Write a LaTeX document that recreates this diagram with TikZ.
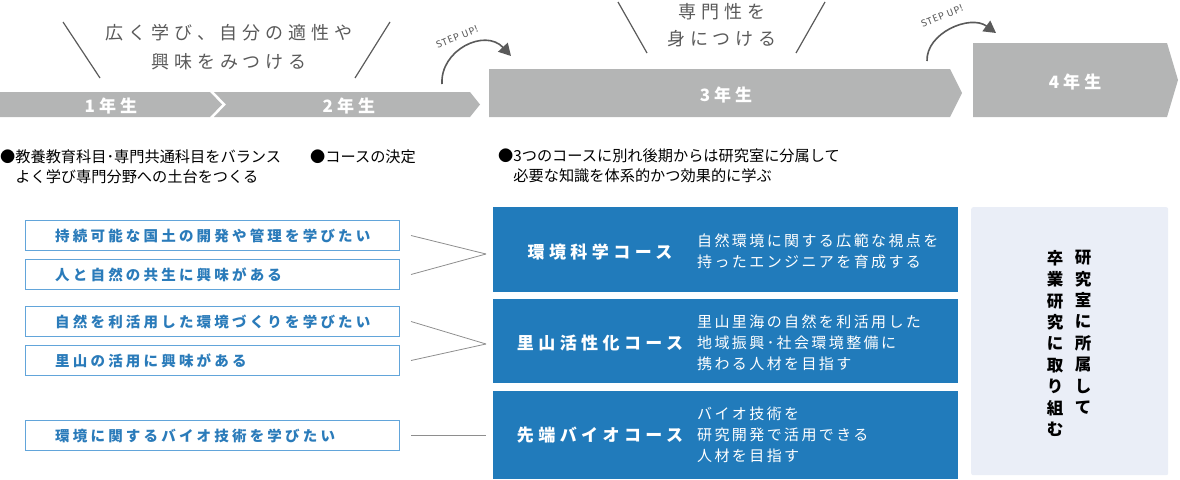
\documentclass[tikz,border=0pt]{standalone}
\usepackage{fontspec}
\setmainfont{Noto Sans CJK JP}
\newfontfamily\stepfont{Fira Sans}
\usetikzlibrary{arrows.meta}
\definecolor{bargray}{HTML}{B4B5B5}
\definecolor{headgray}{HTML}{5A5A5A}
\definecolor{courseblue}{HTML}{217BBB}
\definecolor{wishblue}{HTML}{62A5DA}
\definecolor{wishtext}{HTML}{2A7BBA}
\definecolor{labbg}{HTML}{EAEEF7}
\definecolor{linkgray}{HTML}{8E8E8E}
\newcommand\spaced[1]{\addfontfeature{LetterSpace=#1}}
\begin{document}
\begin{tikzpicture}[x=1pt,y=-1pt,
        yearbar/.style={fill=bargray,draw=none},
        yearlabel/.style={text=white,inner sep=0pt,font=\fontsize{17}{17}\selectfont\bfseries\spaced{24}},
        headline/.style={text=headgray,align=center,inner sep=0pt},
        slash/.style={draw=headgray,line width=1.2pt},
        stepup/.style={draw=headgray,line width=1.6pt,-{Triangle[length=12pt,width=13pt]}},
        steptext/.style={text=headgray,inner sep=0pt,rotate=22,font=\stepfont\fontsize{10}{10}\selectfont\spaced{8}},
        note/.style={anchor=west,align=left,inner sep=0pt,font=\fontsize{15.2}{20}\selectfont},
        wishbox/.style={draw=wishblue,line width=1pt,fill=white,anchor=north west,minimum width=374pt,minimum height=30pt,inner sep=0pt},
        wishlabel/.style={anchor=west,inner sep=0pt,text=wishtext,font=\fontsize{14.5}{14.5}\selectfont\bfseries\spaced{22}},
        link/.style={draw=linkgray,line width=0.8pt},
        coursebox/.style={fill=courseblue,draw=none,anchor=north west,minimum width=465pt,inner sep=0pt},
        coursename/.style={text=white,inner sep=0pt,font=\fontsize{17}{17}\selectfont\bfseries\spaced{26}},
        coursetext/.style={anchor=west,align=left,text=white,inner sep=0pt,font=\fontsize{15}{21}\selectfont\spaced{16}},
        labbox/.style={fill=labbg,draw=none,rounded corners=2pt,anchor=north west,minimum width=197pt,minimum height=268pt},
        labcol/.style={anchor=north,align=center,inner sep=0pt,font=\fontsize{16.5}{21.4}\selectfont\bfseries},
        ]
    \useasboundingbox (0,0) rectangle (1180,479);

    % year bars
    \draw[yearbar] (0,92) -- (210,92) -- (222,104.5) -- (210,117) -- (0,117) -- cycle;
    \draw[yearbar] (214,92) -- (470,92) -- (480,104.5) -- (470,117) -- (214,117) -- (226,104.5) -- cycle;
    \draw[yearbar] (489,69) -- (950,69) -- (962,93) -- (950,117) -- (489,117) -- cycle;
    \draw[yearbar] (973,43) -- (1167,43) -- (1178,80) -- (1167,117) -- (973,117) -- cycle;
    \node (y1) [yearlabel] at (111,106) {1年生};
    \node (y2) [yearlabel] at (349,106) {2年生};
    \node (y3) [yearlabel] at (726,95) {3年生};
    \node (y4) [yearlabel] at (1075,82) {4年生};

    % headlines
    \node (h1) [headline, font=\fontsize{18}{29}\selectfont\spaced{27}] at (229,47.5) {広く学び、自分の適性や\\興味をみつける};
    \draw[slash] (63,22) -- (100,78);
    \draw[slash] (390,22) -- (355,78);
    \node (h2) [headline, font=\fontsize{18}{27}\selectfont\spaced{27}] at (722,25) {専門性を\\身につける};
    \draw[slash] (618,2) -- (647,53);
    \draw[slash] (825,2) -- (796,53);

    % step up
    \draw[stepup] (442,84) .. controls (440,50) and (485,28) .. (511,56);
    \node (s1) [steptext] at (457,37) {STEP UP!};
    \draw[stepup] (927,61) .. controls (926,33) and (970,14) .. (996,33);
    \node (s2) [steptext] at (942,16) {STEP UP!};

    % notes
    \node (n1) [note] at (0,167) {●教養教育科目･専門共通科目をバランス\\\phantom{●}よく学び専門分野への土台をつくる};
    \node (n2) [note] at (310,157) {●コースの決定};
    \node (n3) [note] at (498,166) {●3つのコースに別れ後期からは研究室に分属して\\\phantom{●}必要な知識を体系的かつ効果的に学ぶ};

    % wishes
    \node (w1) [wishbox] at (25,220) {};
    \node (w2) [wishbox] at (25,259) {};
    \node (w3) [wishbox] at (25,306) {};
    \node (w4) [wishbox] at (25,345) {};
    \node (w5) [wishbox] at (25,420) {};
    \node (w1t) [wishlabel] at ([xshift=30pt]w1.west) {持続可能な国土の開発や管理を学びたい};
    \node (w2t) [wishlabel] at ([xshift=30pt]w2.west) {人と自然の共生に興味がある};
    \node (w3t) [wishlabel] at ([xshift=30pt]w3.west) {自然を利活用した環境づくりを学びたい};
    \node (w4t) [wishlabel] at ([xshift=30pt]w4.west) {里山の活用に興味がある};
    \node (w5t) [wishlabel] at ([xshift=30pt]w5.west) {環境に関するバイオ技術を学びたい};

    % courses
    \node (c1) [coursebox, minimum height=85pt] at (493,207) {};
    \node (c2) [coursebox, minimum height=84pt] at (493,299) {};
    \node (c3) [coursebox, minimum height=88pt] at (493,391) {};
    \node (c1n) [coursename] at (600,252) {環境科学コース};
    \node (c2n) [coursename] at (600,343) {里山活性化コース};
    \node (c3n) [coursename] at (600,435) {先端バイオコース};
    \node (c1t) [coursetext] at (697,251) {自然環境に関する広範な視点を\\持ったエンジニアを育成する};
    \node (c2t) [coursetext] at (697,343) {里山里海の自然を利活用した\\地域振興･社会環境整備に\\携わる人材を目指す};
    \node (c3t) [coursetext] at (697,435) {バイオ技術を\\研究開発で活用できる\\人材を目指す};

    % links
    \coordinate (m1) at (486,254);
    \coordinate (m2) at (486,344);
    \draw[link] ([xshift=11pt]w1.east) -- (m1);
    \draw[link] ([xshift=11pt]w2.east) -- (m1);
    \draw[link] ([xshift=11pt]w3.east) -- (m2);
    \draw[link] ([xshift=11pt]w4.east) -- (m2);
    \draw[link] ([xshift=11pt]w5.east) -- ([xshift=-7pt]c3.west |- w5.east);

    % 4th year
    \node (lab) [labbox] at (971,207) {};
    \node (lab1) [labcol] at (1083,250) {研\\究\\室\\に\\所\\属\\し\\て};
    \node (lab2) [labcol] at (1055,250) {卒\\業\\研\\究\\に\\取\\り\\組\\む};
\end{tikzpicture}
\end{document}
